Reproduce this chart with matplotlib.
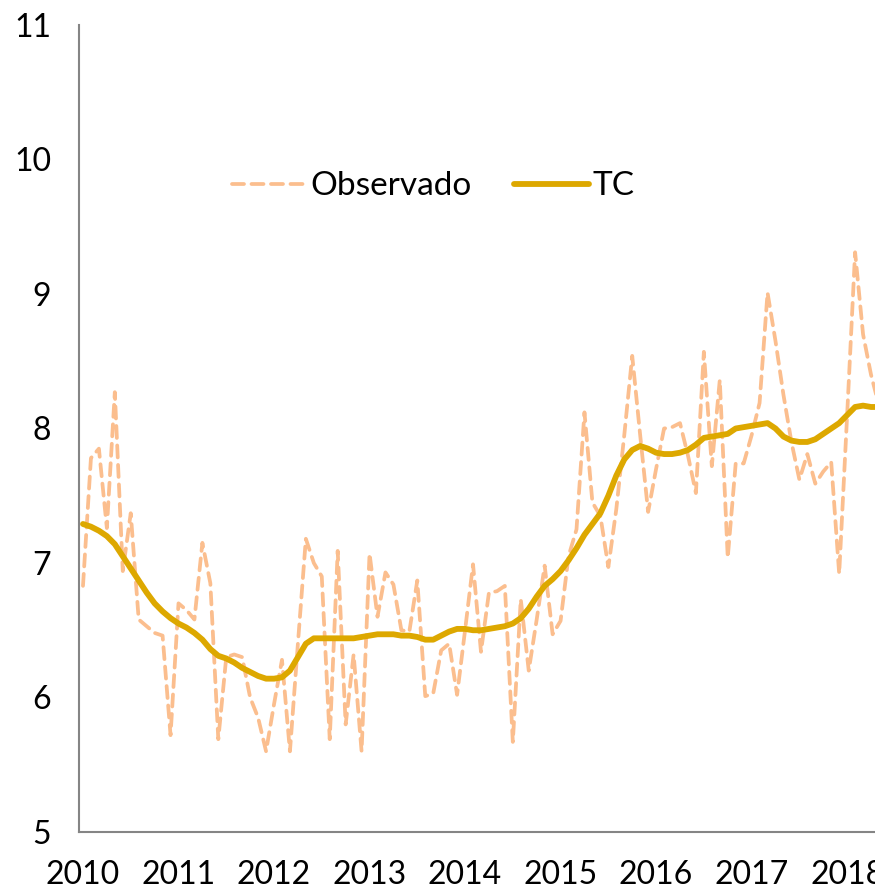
import numpy as np
import matplotlib
matplotlib.use("Agg")
import matplotlib.pyplot as plt

plt.rcParams['font.family'] = ['Lato', 'DejaVu Sans']

# monthly values, Jan 2010 onwards
observado = [6.83, 7.78, 7.85, 7.26, 8.27, 6.94, 7.37, 6.58, 6.53, 6.48, 6.46, 5.72,
             6.70, 6.65, 6.58, 7.15, 6.85, 5.69, 6.30, 6.32, 6.30, 6.00, 5.85, 5.60,
             5.95, 6.28, 5.60, 6.40, 7.18, 7.00, 6.90, 5.69, 7.09, 5.80, 6.32, 5.60,
             7.07, 6.60, 6.93, 6.84, 6.50, 6.49, 6.87, 6.01, 6.03, 6.35, 6.40, 6.02,
             6.50, 6.99, 6.34, 6.78, 6.79, 6.83, 5.67, 6.73, 6.20, 6.58, 6.98, 6.47,
             6.57, 7.05, 7.25, 8.12, 7.45, 7.35, 6.97, 7.40, 7.95, 8.54, 7.95, 7.38,
             7.70, 8.00, 8.01, 8.04, 7.80, 7.52, 8.57, 7.72, 8.36, 7.04, 7.74, 7.74,
             7.95, 8.19, 9.01, 8.65, 8.25, 7.90, 7.62, 7.81, 7.59, 7.68, 7.75, 6.92,
             8.10, 9.31, 8.70, 8.40, 8.17]

tc = [7.29, 7.27, 7.24, 7.20, 7.14, 7.05, 6.96, 6.87, 6.78, 6.70, 6.64, 6.59,
      6.55, 6.52, 6.48, 6.43, 6.36, 6.31, 6.29, 6.26, 6.22, 6.19, 6.16, 6.14,
      6.14, 6.15, 6.20, 6.30, 6.40, 6.44, 6.44, 6.44, 6.44, 6.44, 6.44, 6.45,
      6.46, 6.47, 6.47, 6.47, 6.46, 6.46, 6.45, 6.43, 6.43, 6.46, 6.49, 6.51,
      6.51, 6.50, 6.50, 6.51, 6.52, 6.53, 6.55, 6.59, 6.66, 6.75, 6.83, 6.88,
      6.94, 7.02, 7.11, 7.21, 7.29, 7.37, 7.50, 7.65, 7.77, 7.84, 7.87, 7.85,
      7.82, 7.81, 7.81, 7.82, 7.84, 7.88, 7.93, 7.94, 7.95, 7.96, 8.00, 8.01,
      8.02, 8.03, 8.04, 8.00, 7.94, 7.91, 7.90, 7.90, 7.92, 7.96, 8.00, 8.04,
      8.10, 8.16, 8.17, 8.16, 8.16]

years = ['2010', '2011', '2012', '2013', '2014', '2015', '2016', '2017', '2018']

x = np.arange(len(observado))

fig = plt.figure(figsize=(8.75, 8.89), dpi=100)
ax = fig.add_axes([79 / 875, 57 / 889, 1 - 79 / 875, 807 / 889])

ax.plot(x, observado, color='#FBBE8E', lw=2.7, dashes=(3.2, 2),
        dash_capstyle='round', label='Observado')
ax.plot(x, tc, color='#DDA800', lw=4.2, solid_capstyle='round', label='TC')

ax.set_xlim(-0.5, 99.5)
ax.set_ylim(5, 11)
ax.set_yticks(range(5, 12))
ax.set_xticks(np.arange(len(years)) * 12)
ax.set_xticklabels(years)

for s in ['top', 'right']:
    ax.spines[s].set_visible(False)
for s in ['left', 'bottom']:
    ax.spines[s].set_color('#858585')
    ax.spines[s].set_linewidth(1.5)

ax.tick_params(axis='both', length=0, labelsize=23, colors='black')
ax.tick_params(axis='y', pad=20)
ax.tick_params(axis='x', pad=20)

ax.legend(loc='center', bbox_to_anchor=(0.445, 0.80), ncol=2, frameon=False,
          fontsize=24, handlelength=2.25, handletextpad=0.1, columnspacing=1.25)

fig.savefig('out.png', dpi=100)
